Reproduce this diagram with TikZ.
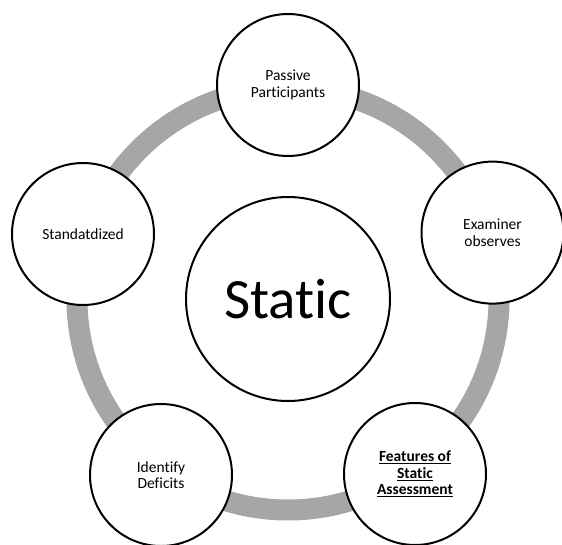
\documentclass[tikz,border=0pt]{standalone}
\usepackage{fontspec}
\setmainfont{Carlito}[Ligatures={NoCommon}]
\usetikzlibrary{calc}
\definecolor{ringgray}{HTML}{A6A6A6}
\tikzset{
  outer/.style={circle, draw=black, line width=2pt, fill=white, minimum size=142pt, inner sep=0pt, align=center, font=\fontsize{15.5}{16.5}\selectfont},
  hub/.style={circle, draw=black, line width=2pt, fill=white, minimum size=204pt, inner sep=0pt, font=\fontsize{57}{60}\selectfont}
}
\begin{document}
\begin{tikzpicture}[x=1pt,y=-1pt]
\useasboundingbox (0,0) rectangle (562,544);
\clip (0,0) rectangle (562,544);
\coordinate (c) at (288,299);
\draw[ringgray, line width=21pt] (c) circle[radius=211];
\node[hub] (static) at (c) {Static};
\node[outer] (passive) at ($(c)+(0,-214)$) {Passive\\Participants};
\node[outer] (exam) at ($(c)+(204.5,-66.4)$) {Examiner\\observes};
\node[outer] (feat) at ($(c)+(127,175)$) {\textbf{\underline{Features of}}\\\textbf{\underline{Static}}\\\textbf{\underline{Assessment}}};
\node[outer] (ident) at ($(c)+(-127,176)$) {Identify\\Deficits};
\node[outer] (std) at ($(c)+(-205,-65)$) {Standatdized};
\end{tikzpicture}
\end{document}
